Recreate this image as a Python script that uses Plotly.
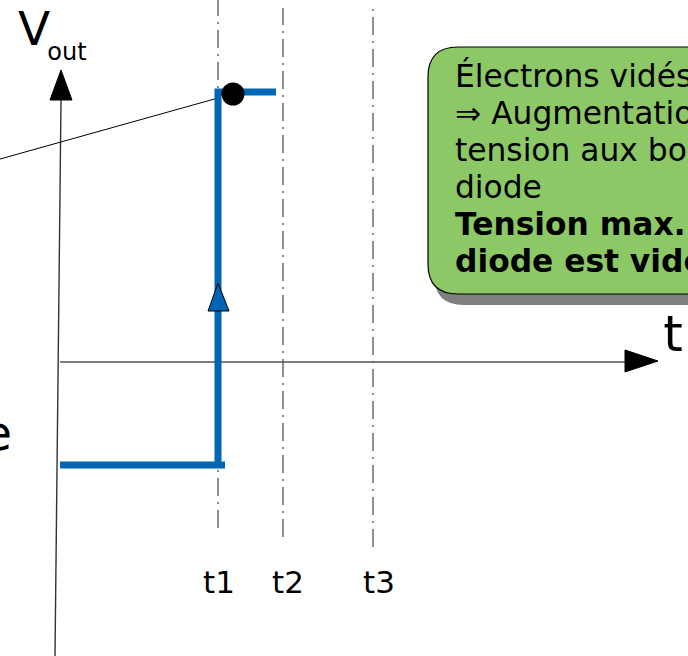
import plotly.graph_objects as go

# --- diagram values (time units on the t axis, voltage units on the V axis) ---
t_marks = [158, 223, 313]            # t1, t2, t3
t_labels = ["t1", "t2", "t3"]
t_label_shift = [1, 5, 6]
t_mark_top = [362, 354, 354]
t_mark_bottom = [-166, -175, -185]

v_low = -103                         # output before t1
v_high = 270                         # output once the diode is emptied
step_t = [0, 158, 158, 216]
step_v = [v_low, v_low, v_high, v_high]
low_end = 165

t_axis_end = 565
v_axis = ([-5, 1], [-294, 262])      # slightly slanted vertical axis

box_lines = [
    "Électrons vidés",
    "⇒ Augmentation de la",
    "tension aux bornes de la",
    "diode",
    "<b>Tension max. quand la</b>",
    "<b>diode est vidée</b>",
]
box_line_v = [283, 246, 209, 172, 135, 98]

BLUE = "#0066b3"
GREEN = "#8cc866"
FONT = "DejaVu Sans"

fig = go.Figure()

def rounded_rect(x0, y0, x1, y1, r):
    return (f"M {x0+r},{y1} L {x1-r},{y1} Q {x1},{y1} {x1},{y1-r} "
            f"L {x1},{y0+r} Q {x1},{y0} {x1-r},{y0} L {x0+r},{y0} "
            f"Q {x0},{y0} {x0},{y0+r} L {x0},{y1-r} Q {x0},{y1} {x0+r},{y1} Z")

# callout box with drop shadow
bx0, by0, bx1, by1 = 368, 68, 700, 315
fig.add_shape(type="path", path=rounded_rect(bx0 + 6, by0 - 11, bx1 + 6, by1 - 11, 30),
              fillcolor="#7f7f7f", line=dict(width=0), layer="below")
fig.add_shape(type="path", path=rounded_rect(bx0, by0, bx1, by1, 30),
              fillcolor=GREEN, line=dict(color="black", width=1.2), layer="below")

# dash-dot time markers
for t, top, bot in zip(t_marks, t_mark_top, t_mark_bottom):
    fig.add_trace(go.Scatter(x=[t, t], y=[bot, top], mode="lines",
                             line=dict(color="#333", width=1.1, dash="18px,6px,2px,6px"),
                             hoverinfo="skip"))

# axes
fig.add_trace(go.Scatter(x=v_axis[0], y=v_axis[1], mode="lines",
                         line=dict(color="#333", width=1.4), hoverinfo="skip"))
fig.add_trace(go.Scatter(x=[0, t_axis_end], y=[0, 0], mode="lines",
                         line=dict(color="#555", width=1.4), hoverinfo="skip"))
# arrowheads
vx, vy = v_axis[0][1], v_axis[1][1]
fig.add_trace(go.Scatter(x=[vx, vx - 11, vx + 11, vx], y=[vy + 30, vy, vy, vy + 30],
                         mode="lines", fill="toself", fillcolor="black",
                         line=dict(color="black", width=1), hoverinfo="skip"))
fig.add_trace(go.Scatter(x=[t_axis_end + 33, t_axis_end, t_axis_end, t_axis_end + 33],
                         y=[1, 12, -10, 1], mode="lines", fill="toself", fillcolor="black",
                         line=dict(color="black", width=1), hoverinfo="skip"))

# leader line from the callout to the peak
lead_y = v_high - 6
fig.add_trace(go.Scatter(x=[-90, step_t[2]], y=[lead_y - 0.28 * (step_t[2] + 90), lead_y],
                         mode="lines", line=dict(color="black", width=1), hoverinfo="skip"))

# output step
fig.add_trace(go.Scatter(x=[0, low_end], y=[v_low, v_low], mode="lines",
                         line=dict(color=BLUE, width=7), hoverinfo="skip"))
fig.add_trace(go.Scatter(x=step_t[1:], y=step_v[1:], mode="lines",
                         line=dict(color=BLUE, width=7), hoverinfo="skip"))
# direction arrow on the rising edge
ta = step_t[1]
fig.add_trace(go.Scatter(x=[ta, ta - 10, ta + 11, ta], y=[79, 51, 51, 79],
                         mode="lines", fill="toself", fillcolor=BLUE,
                         line=dict(color="black", width=1), hoverinfo="skip"))
# peak marker
fig.add_trace(go.Scatter(x=[step_t[2] + 15], y=[v_high - 2], mode="markers",
                         marker=dict(color="black", size=23), hoverinfo="skip"))

# texts
fig.add_trace(go.Scatter(x=[t + s for t, s in zip(t_marks, t_label_shift)], y=[-223] * 3,
                         mode="text", text=t_labels,
                         textfont=dict(family=FONT, size=31, color="black"),
                         hoverinfo="skip"))
fig.add_trace(go.Scatter(x=[395] * len(box_lines), y=box_line_v, mode="text",
                         text=box_lines, textposition="middle right",
                         textfont=dict(family=FONT, size=31.3, color="black"),
                         hoverinfo="skip"))
fig.add_trace(go.Scatter(x=[-26, 7, 613, -48], y=[329, 308, 24, -76], mode="text",
                         text=["V", "out", "t", "e"],
                         textposition=["middle center", "middle center", "middle center", "middle left"],
                         textfont=dict(family=FONT, size=[47, 24, 50, 48], color="black"),
                         hoverinfo="skip"))

fig.update_traces(cliponaxis=True)
fig.update_layout(
    width=688, height=656, margin=dict(l=0, r=0, t=0, b=0),
    paper_bgcolor="white", plot_bgcolor="white", showlegend=False,
    xaxis=dict(range=[-60, 628], visible=False, fixedrange=True),
    yaxis=dict(range=[-294, 362], visible=False, fixedrange=True),
)
fig.write_html("out.html", config={"displayModeBar": False})
